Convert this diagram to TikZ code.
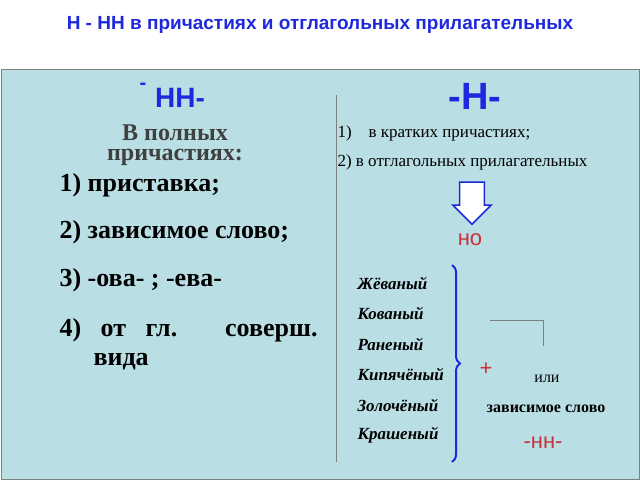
\documentclass[tikz,border=0pt]{standalone}
\usepackage{fontspec}
\setmainfont{Liberation Serif}
\setsansfont{Liberation Sans}
\usetikzlibrary{positioning,shapes.arrows,decorations.pathreplacing}
\definecolor{boxblue}{RGB}{185,222,228}
\definecolor{titleblue}{RGB}{30,40,220}
\definecolor{nored}{RGB}{200,50,60}
\tikzset{
    big_item/.style={anchor=west, font=\fontsize{26}{29}\selectfont\bfseries},
    small_item/.style={anchor=west, font=\fontsize{17}{19}\selectfont},
    word_item/.style={anchor=west, font=\fontsize{17}{19}\selectfont\bfseries\itshape},
    suffix/.style={text=titleblue, font=\sffamily\bfseries},
    red_text/.style={text=nored, font=\sffamily\fontsize{22}{24}\selectfont},
}
\begin{document}
\begin{tikzpicture}[x=1pt,y=-1pt]
      \useasboundingbox (0,0) rectangle (640,480);
      % background
      \fill[white] (0,0) rectangle (640,480);
      \draw[gray, fill=boxblue, line width=1pt] (1,69) rectangle (639,479);
      \node (title) [text=titleblue, font=\sffamily\bfseries\fontsize{19}{21}\selectfont] at (320,25)
            {Н - НН в причастиях и отглагольных прилагательных};
      \draw[gray] (336,95) -- (336,462);
      %%%%%%%%
      % LEFT %
      %%%%%%%%
      \node (dash_nn) [font=\sffamily\bfseries\fontsize{20}{20}\selectfont, text=titleblue] at (143,86) {-};
      \node (nn) [suffix, font=\sffamily\bfseries\fontsize{28}{30}\selectfont] at (180,98) {НН-};
      \node (full) [align=center, text=black!75, font=\bfseries\fontsize{24}{20}\selectfont] at (175,145)
            {В полных\\причастиях:};
      \node (item_1) [big_item] at (56,185) {1) приставка;};
      \node (item_2) [big_item] at (56,232) {2) зависимое слово;};
      \node (item_3) [big_item] at (56,280) {3) -ова- ; -ева-};
      \node (item_4) [big_item] at (56,330) {\makebox[258pt][s]{4) от гл. соверш.}};
      \node (item_4b) [big_item] at (90,362) {вида};
      %%%%%%%%%
      % RIGHT %
      %%%%%%%%%
      \node (n) [suffix, font=\sffamily\bfseries\fontsize{38}{40}\selectfont] at (475,96) {-Н-};
      \node (rule_1) [small_item] at (334,133) {1)\quad в кратких причастиях;};
      \node (rule_2) [small_item] at (334,162) {2) в отглагольных прилагательных};
      \node (down_arrow) [single arrow, shape border rotate=270, draw=titleblue, fill=white, line width=1.5pt,
            minimum height=42pt, minimum width=38pt, single arrow head extend=3pt, inner sep=5pt] at (472,197) {};
      \node (no) [red_text] at (470,240) {но};
      \foreach \w [count=\i] in {Жёваный,Кованый,Раненый,Кипячёный,Золочёный,Крашеный}
          \node (word_\i) [word_item] at (354,283+30.5*\i-30.5) {\w};
      \coordinate (brace_top) at (452,265);
      \coordinate (brace_bot) at (452,462);
      \draw[titleblue, line width=2pt, decorate, decoration={brace, amplitude=8pt}] (brace_top) -- (brace_bot);
      \coordinate (bracket_a) at (490,320);
      \coordinate (bracket_b) at (543,320);
      \coordinate (bracket_c) at (543,346);
      \draw[gray] (bracket_a) -- (bracket_b) -- (bracket_c);
      \node (plus) [red_text] at (486,369) {+};
      \node (or) [font=\fontsize{16}{18}\selectfont] at (547,379) {или};
      \node (dep) [font=\fontsize{16}{18}\selectfont\bfseries] at (546,409) {зависимое слово};
      \node (nn_red) [red_text] at (543,443) {-нн-};
   \end{tikzpicture}
\end{document}
